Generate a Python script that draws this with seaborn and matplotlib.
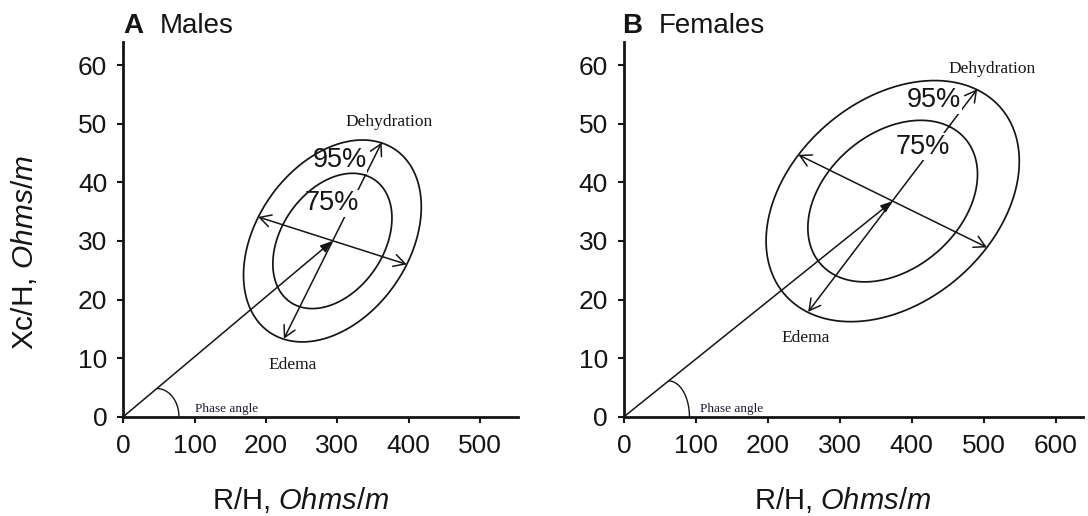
import numpy as np
import matplotlib
matplotlib.use("Agg")
import matplotlib.pyplot as plt
import seaborn as sns

# ---------------- data ----------------
panel_letters = ["A", "B"]
panel_names = ["Males", "Females"]
x_limits = [553, 638]
x_ticks_males = [0, 100, 200, 300, 400, 500]
x_ticks_females = [0, 100, 200, 300, 400, 500, 600]
y_ticks = [0, 10, 20, 30, 40, 50, 60]
y_limit = 64

# mean vector (R/H, Xc/H) and the 95% ellipse axis end points
males_center = [293, 30.0]
males_dehydration_tip = [362, 46.8]
males_edema_tip = [225, 13.3]
males_minor_left = [189, 34.1]
males_minor_right = [397, 26.0]
males_phase_arc = [47, 78]          # arc from the vector to the R axis (R values)

females_center = [373.5, 36.8]
females_dehydration_tip = [491, 55.9]
females_edema_tip = [256, 17.9]
females_minor_left = [242.5, 44.7]
females_minor_right = [504.5, 28.9]
females_phase_arc = [62, 91]

tolerance_levels = ["95%", "75%"]
tolerance_scales = [1.0, 0.67]      # 75% ellipse relative to the 95% one

# annotation positions (data coordinates)
males_labels = {"Dehydration": (372, 50.3), "95%": (303, 43.8), "75%": (292, 36.4),
                "Edema": (237, 8.8), "Phase angle": (100.5, 1.3)}
females_labels = {"Dehydration": (511, 59.4), "95%": (431, 54.0), "75%": (415, 46.1),
                  "Edema": (253, 13.4), "Phase angle": (105.6, 1.3)}

# ---------------- styling ----------------
sns.set_theme(style="ticks")
plt.rcParams["font.family"] = ["Liberation Sans", "DejaVu Sans"]
plt.rcParams["mathtext.fontset"] = "custom"
plt.rcParams["mathtext.rm"] = "Liberation Sans"
plt.rcParams["mathtext.it"] = "Liberation Sans:italic"

INK = "#151515"
SERIF = ["Liberation Serif", "DejaVu Serif"]

fig = plt.figure(figsize=(10.88, 5.16), dpi=100)
axA = fig.add_axes([0.1133, 0.1924, 0.3628, 0.7267])
axB = fig.add_axes([0.5735, 0.1924, 0.4219, 0.7267])


def ellipse_xy(center, major_hi, major_lo, minor_lo, minor_hi, scale):
    t = np.linspace(0, 2 * np.pi, 400)
    c = np.asarray(center, float)
    a = (np.asarray(major_hi, float) - np.asarray(major_lo, float)) / 2
    b = (np.asarray(minor_hi, float) - np.asarray(minor_lo, float)) / 2
    x = c[0] + scale * (a[0] * np.cos(t) + b[0] * np.sin(t))
    y = c[1] + scale * (a[1] * np.cos(t) + b[1] * np.sin(t))
    return x, y


def draw_panel(ax, xlim, xticks, center, dtip, etip, mleft, mright,
               arc, labels, show_ylabel, xlabel_x):
    # tolerance ellipses
    for scale in tolerance_scales:
        ex, ey = ellipse_xy(center, dtip, etip, mleft, mright, scale)
        sns.lineplot(x=ex, y=ey, sort=False, estimator=None, ax=ax,
                     color=INK, linewidth=1.25, zorder=4)

    # phase angle arc (quarter ellipse from the vector down to the R axis)
    ys = center[1] * arc[0] / center[0]
    t = np.linspace(0, np.pi / 2, 60)
    arc_x = arc[0] + (arc[1] - arc[0]) * np.sin(t)
    arc_y = ys * np.cos(t)
    sns.lineplot(x=arc_x, y=arc_y, sort=False, estimator=None, ax=ax,
                 color=INK, linewidth=1.0, zorder=4)

    open_head = dict(arrowstyle="<->,head_length=0.4,head_width=0.22",
                     mutation_scale=20, lw=1.1, color=INK,
                     shrinkA=0, shrinkB=0)
    # major axis (edema <-> dehydration)
    ax.annotate("", xy=tuple(dtip), xytext=tuple(etip),
                arrowprops=open_head, zorder=2)
    # minor axis
    ax.annotate("", xy=tuple(mright), xytext=tuple(mleft),
                arrowprops=open_head, zorder=2)
    # impedance vector from origin to mean
    ax.annotate("", xy=tuple(center), xytext=(0, 0),
                arrowprops=dict(arrowstyle="-|>,head_length=0.6,head_width=0.22",
                                mutation_scale=12, lw=1.1, color=INK,
                                shrinkA=0, shrinkB=0), zorder=2)

    # percent labels with white background (break the major axis line)
    for lev in tolerance_levels:
        ax.text(*labels[lev], lev, ha="center", va="center", fontsize=19.5,
                color=INK, zorder=3,
                bbox=dict(facecolor="white", edgecolor="none", pad=0.5))
    ax.text(*labels["Dehydration"], "Dehydration", ha="center", va="center",
            fontsize=12.5, family=SERIF, color=INK, zorder=5)
    ax.text(*labels["Edema"], "Edema", ha="center", va="center",
            fontsize=12.5, family=SERIF, color=INK, zorder=5)
    ax.text(*labels["Phase angle"], "Phase angle", ha="left", va="center",
            fontsize=9.5, family=SERIF, color="#1b1b30", zorder=5)

    ax.set_xlim(0, xlim)
    ax.set_ylim(0, y_limit)
    ax.set_xticks(xticks)
    ax.set_yticks(y_ticks)
    sns.despine(ax=ax)
    for side in ("left", "bottom"):
        ax.spines[side].set_linewidth(2.0)
        ax.spines[side].set_color(INK)
    ax.tick_params(axis="both", direction="out", length=4, width=1.5,
                   colors=INK, labelsize=19)
    ax.tick_params(axis="x", pad=8.5)
    ax.tick_params(axis="y", pad=7.5)

    ax.set_xlabel(r"R/H, $\mathit{Ohms/m}$", fontsize=21, color=INK, va="center")
    ax.xaxis.set_label_coords(xlabel_x, -0.222)
    if show_ylabel:
        ax.set_ylabel(r"Xc/H, $\mathit{Ohms/m}$", fontsize=21.5, color=INK, va="center")
        ax.yaxis.set_label_coords(-0.2516, 0.4365)
    else:
        ax.set_ylabel("")


draw_panel(axA, x_limits[0], x_ticks_males, males_center,
           males_dehydration_tip, males_edema_tip, males_minor_left,
           males_minor_right, males_phase_arc, males_labels, True, 0.450)
draw_panel(axB, x_limits[1], x_ticks_females, females_center,
           females_dehydration_tip, females_edema_tip, females_minor_left,
           females_minor_right, females_phase_arc, females_labels, False, 0.477)

# panel titles
title_y = 1 - 32.7 / 516
for letter, name, lx, nx in [(panel_letters[0], panel_names[0], 123 / 1088, 160 / 1088),
                             (panel_letters[1], panel_names[1], 622 / 1088, 659 / 1088)]:
    fig.text(lx, title_y, letter, fontsize=20, fontweight="bold", color=INK,
             ha="left", va="baseline")
    fig.text(nx, title_y, name, fontsize=20, color=INK, ha="left", va="baseline")

fig.savefig("out.png", dpi=100, facecolor="white")
